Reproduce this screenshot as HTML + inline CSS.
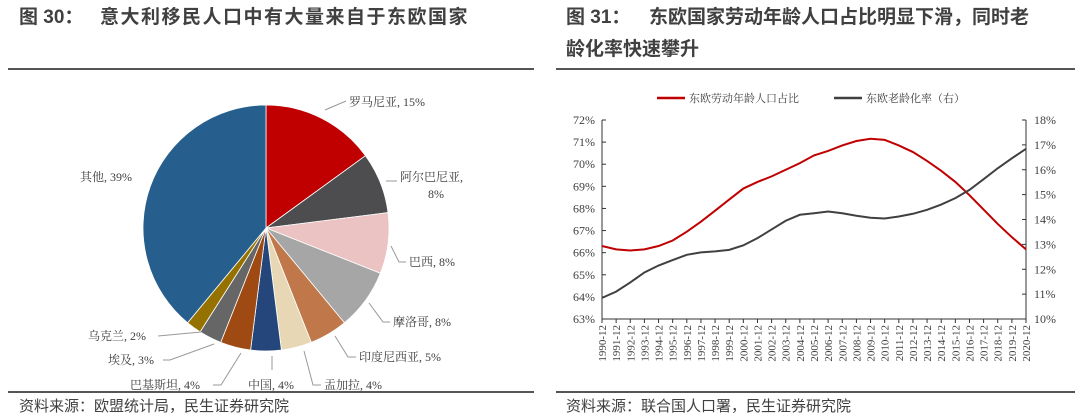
<!DOCTYPE html>
<html><head><meta charset="utf-8"><style>
body{margin:0;width:1080px;height:417px;background:#fff;overflow:hidden;font-family:"Liberation Sans","Noto Sans CJK SC",sans-serif;}
svg{position:absolute;left:0;top:0}
</style></head><body>
<svg width="1080" height="417">
<g font-family="Liberation Sans, Noto Sans CJK SC, sans-serif" font-weight="bold" font-size="19" fill="#404040">
<text x="19" y="23">图 30：</text>
<text x="100" y="23" letter-spacing="1.5">意大利移民人口中有大量来自于东欧国家</text>
<text x="566" y="23">图 31：</text>
<text x="649" y="23">东欧国家劳动年龄人口占比明显下滑，同时老</text>
<text x="566" y="55">龄化率快速攀升</text>
</g>
<line x1="8" y1="69" x2="534" y2="69" stroke="#555" stroke-width="2"/>
<line x1="556" y1="69" x2="1075" y2="69" stroke="#555" stroke-width="2"/>
<line x1="8" y1="392" x2="534" y2="392" stroke="#555" stroke-width="2"/>
<line x1="556" y1="392" x2="1075" y2="392" stroke="#555" stroke-width="2"/>
<g font-family="Liberation Sans, Noto Sans CJK SC, sans-serif" font-size="15" fill="#404040">
<text x="19" y="411">资料来源：欧盟统计局，民生证券研究院</text>
<text x="566" y="411">资料来源：联合国人口署，民生证券研究院</text>
</g>
<g id="pie"></g>
<g id="pielabels" font-family="Liberation Serif, Noto Serif CJK SC, serif" font-size="12" fill="#404040">
<polyline points="325,110 346,101" fill="none" stroke="#999"/><text x="349" y="106">罗马尼亚, 15%</text>
<polyline points="386,181 397,181" fill="none" stroke="#999"/><text x="400" y="181">阿尔巴尼亚,</text><text x="428" y="198">8%</text>
<polyline points="391,246 399,262 406,262" fill="none" stroke="#999"/><text x="409" y="266">巴西, 8%</text>
<polyline points="369,303 383,322 390,322" fill="none" stroke="#999"/><text x="393" y="326">摩洛哥, 8%</text>
<polyline points="335,336 348,357 356,357" fill="none" stroke="#999"/><text x="359" y="361">印度尼西亚, 5%</text>
<polyline points="304,351 313,385 321,385" fill="none" stroke="#999"/><text x="324" y="389">盂加拉, 4%</text>
<polyline points="272,356 272,370" fill="none" stroke="#999"/><text x="248" y="389">中国, 4%</text>
<polyline points="241,353 221,385 213,385" fill="none" stroke="#999"/><text x="130" y="389">巴基斯坦, 4%</text>
<polyline points="214,344 170,360 163,360" fill="none" stroke="#999"/><text x="108" y="364">埃及, 3%</text>
<polyline points="201,332 158,336" fill="none" stroke="#999"/><text x="88" y="340">乌克兰, 2%</text>
<text x="80" y="181">其他, 39%</text>
</g>
<g id="line"></g>
</svg>
<script>
const NS='http://www.w3.org/2000/svg';
function mk(tag,attrs,parent){const e=document.createElementNS(NS,tag);for(const k in attrs)e.setAttribute(k,attrs[k]);parent.appendChild(e);return e;}
// Pie data
const pieCategories=['罗马尼亚','阿尔巴尼亚','巴西','摩洛哥','印度尼西亚','孟加拉','中国','巴基斯坦','埃及','乌克兰','其他'];
const pieValues=[15,8,8,8,5,4,4,4,3,2,39];
const pieColors=['#C00000','#4D4D4F','#EBC3C3','#A6A6A6','#C0784A','#E8D7B4','#25467A','#9E4A12','#666666','#957200','#265F8E'];
const pg=document.getElementById('pie');
const cx=266,cy=228,r=123;
let tot=pieValues.reduce((a,b)=>a+b,0),acc=0;
pieValues.forEach((v,i)=>{
  const a0=acc/tot*2*Math.PI;acc+=v;const a1=acc/tot*2*Math.PI;
  const x0=cx+r*Math.sin(a0),y0=cy-r*Math.cos(a0),x1=cx+r*Math.sin(a1),y1=cy-r*Math.cos(a1);
  const p=mk('path',{d:`M${cx},${cy}L${x0},${y0}A${r},${r} 0 ${a1-a0>Math.PI?1:0} 1 ${x1},${y1}Z`,fill:pieColors[i],stroke:'#fff','stroke-width':0.8},pg);
  
  
});
// Line data
const years=[];for(let y=1990;y<=2020;y++)years.push(y+'-12');
const workingAge=[66.3,66.15,66.1,66.15,66.3,66.55,66.95,67.4,67.9,68.4,68.9,69.2,69.45,69.75,70.05,70.4,70.6,70.85,71.05,71.15,71.1,70.85,70.55,70.15,69.7,69.2,68.6,67.95,67.3,66.7,66.15];
const aging=[10.85,11.1,11.47,11.87,12.15,12.37,12.58,12.68,12.72,12.78,12.96,13.25,13.6,13.95,14.19,14.25,14.32,14.25,14.15,14.07,14.04,14.12,14.23,14.39,14.6,14.86,15.19,15.62,16.06,16.46,16.84];
const leftTicks=[63,64,65,66,67,68,69,70,71,72];
const rightTicks=[10,11,12,13,14,15,16,17,18];
const lg=document.getElementById('line');
const X0=602,X1=1026,Y0=319,Y1=120;
const xs=i=>X0+(X1-X0)*i/(years.length-1);
const yl=v=>Y0-(v-63)/(72-63)*(Y0-Y1);
const yr=v=>Y0-(v-10)/(18-10)*(Y0-Y1);
const F='Liberation Serif, Noto Serif CJK SC, serif';
mk('line',{x1:X0,y1:Y1,x2:X0,y2:Y0,stroke:'#333'},lg);
mk('line',{x1:X1,y1:Y1,x2:X1,y2:Y0,stroke:'#333'},lg);
mk('line',{x1:X0,y1:Y0,x2:X1,y2:Y0,stroke:'#333'},lg);
leftTicks.forEach(t=>{const y=yl(t);mk('line',{x1:X0,y1:y,x2:X0+4,y2:y,stroke:'#333'},lg);
 const e=mk('text',{x:X0-7,y:y+4,'text-anchor':'end','font-family':F,'font-size':12,fill:'#404040'},lg);e.textContent=t+'%';
 
 });
rightTicks.forEach(t=>{const y=yr(t);mk('line',{x1:X1-4,y1:y,x2:X1,y2:y,stroke:'#333'},lg);
 const e=mk('text',{x:X1+8,y:y+4,'font-family':F,'font-size':12,fill:'#404040'},lg);e.textContent=t+'%';
 
 });
years.forEach((yv,i)=>{const x=xs(i);mk('line',{x1:x,y1:Y0,x2:x,y2:Y0+4,stroke:'#333'},lg);
 const e=mk('text',{x:0,y:0,transform:`translate(${x+4},${Y0+6}) rotate(-90)`,'text-anchor':'end','font-family':F,'font-size':11,fill:'#404040'},lg);e.textContent=yv;
 
 });
const p1=mk('polyline',{points:workingAge.map((v,i)=>xs(i)+','+yl(v)).join(' '),fill:'none',stroke:'#C00000','stroke-width':2},lg);


const p2=mk('polyline',{points:aging.map((v,i)=>xs(i)+','+yr(v)).join(' '),fill:'none',stroke:'#404040','stroke-width':2},lg);


// legend
mk('line',{x1:657,y1:98,x2:685,y2:98,stroke:'#C00000','stroke-width':2.5},lg);
let t=mk('text',{x:689,y:102,'font-family':F,'font-size':11,fill:'#404040'},lg);t.textContent='东欧劳动年龄人口占比';


mk('line',{x1:834,y1:98,x2:862,y2:98,stroke:'#404040','stroke-width':2.5},lg);
t=mk('text',{x:866,y:102,'font-family':F,'font-size':11,fill:'#404040'},lg);t.textContent='东欧老龄化率（右）';


</script>
</body></html>
